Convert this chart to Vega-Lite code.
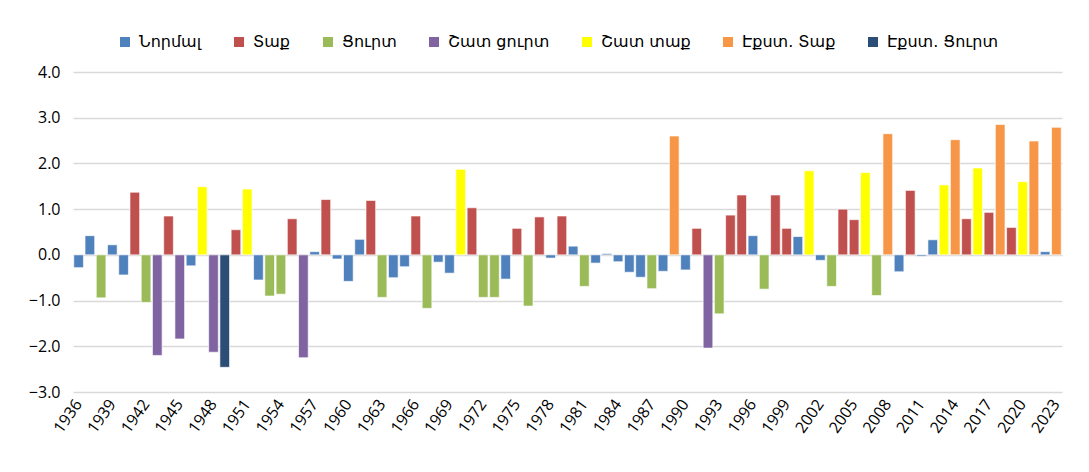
{
  "$schema": "https://vega.github.io/schema/vega-lite/v6.json",
  "width": 989,
  "height": 320,
  "autosize": {"type": "none"},
  "padding": {"left": 73, "top": 72, "right": 27, "bottom": 80},
  "background": "white",
  "config": {
    "view": {"stroke": null},
    "axis": {"labelFont": "Open Sans", "labelColor": "#000000"}
  },
  "data": {
    "values": [
      {"year": 1936, "cat": "Նորմալ", "v": -0.28},
      {"year": 1937, "cat": "Նորմալ", "v": 0.42},
      {"year": 1938, "cat": "Ցուրտ", "v": -0.94},
      {"year": 1939, "cat": "Նորմալ", "v": 0.22},
      {"year": 1940, "cat": "Նորմալ", "v": -0.44},
      {"year": 1941, "cat": "Տաք", "v": 1.37},
      {"year": 1942, "cat": "Ցուրտ", "v": -1.04},
      {"year": 1943, "cat": "Շատ ցուրտ", "v": -2.2},
      {"year": 1944, "cat": "Տաք", "v": 0.85},
      {"year": 1945, "cat": "Շատ ցուրտ", "v": -1.84},
      {"year": 1946, "cat": "Նորմալ", "v": -0.24},
      {"year": 1947, "cat": "Շատ տաք", "v": 1.49},
      {"year": 1948, "cat": "Շատ ցուրտ", "v": -2.13},
      {"year": 1949, "cat": "Էքստ. Ցուրտ", "v": -2.46},
      {"year": 1950, "cat": "Տաք", "v": 0.55},
      {"year": 1951, "cat": "Շատ տաք", "v": 1.44},
      {"year": 1952, "cat": "Նորմալ", "v": -0.55},
      {"year": 1953, "cat": "Ցուրտ", "v": -0.9},
      {"year": 1954, "cat": "Ցուրտ", "v": -0.86},
      {"year": 1955, "cat": "Տաք", "v": 0.79},
      {"year": 1956, "cat": "Շատ ցուրտ", "v": -2.25},
      {"year": 1957, "cat": "Նորմալ", "v": 0.07},
      {"year": 1958, "cat": "Տաք", "v": 1.21},
      {"year": 1959, "cat": "Նորմալ", "v": -0.09},
      {"year": 1960, "cat": "Նորմալ", "v": -0.58},
      {"year": 1961, "cat": "Նորմալ", "v": 0.34},
      {"year": 1962, "cat": "Տաք", "v": 1.19},
      {"year": 1963, "cat": "Ցուրտ", "v": -0.93},
      {"year": 1964, "cat": "Նորմալ", "v": -0.5},
      {"year": 1965, "cat": "Նորմալ", "v": -0.26},
      {"year": 1966, "cat": "Տաք", "v": 0.85},
      {"year": 1967, "cat": "Ցուրտ", "v": -1.17},
      {"year": 1968, "cat": "Նորմալ", "v": -0.16},
      {"year": 1969, "cat": "Նորմալ", "v": -0.4},
      {"year": 1970, "cat": "Շատ տաք", "v": 1.87},
      {"year": 1971, "cat": "Տաք", "v": 1.03},
      {"year": 1972, "cat": "Ցուրտ", "v": -0.93},
      {"year": 1973, "cat": "Ցուրտ", "v": -0.93},
      {"year": 1974, "cat": "Նորմալ", "v": -0.53},
      {"year": 1975, "cat": "Տաք", "v": 0.58},
      {"year": 1976, "cat": "Ցուրտ", "v": -1.12},
      {"year": 1977, "cat": "Տաք", "v": 0.83},
      {"year": 1978, "cat": "Նորմալ", "v": -0.07},
      {"year": 1979, "cat": "Տաք", "v": 0.85},
      {"year": 1980, "cat": "Նորմալ", "v": 0.19},
      {"year": 1981, "cat": "Ցուրտ", "v": -0.69},
      {"year": 1982, "cat": "Նորմալ", "v": -0.18},
      {"year": 1983, "cat": "Նորմալ", "v": 0.03},
      {"year": 1984, "cat": "Նորմալ", "v": -0.15},
      {"year": 1985, "cat": "Նորմալ", "v": -0.38},
      {"year": 1986, "cat": "Նորմալ", "v": -0.49},
      {"year": 1987, "cat": "Ցուրտ", "v": -0.74},
      {"year": 1988, "cat": "Նորմալ", "v": -0.36},
      {"year": 1989, "cat": "Էքստ. Տաք", "v": 2.6},
      {"year": 1990, "cat": "Նորմալ", "v": -0.33},
      {"year": 1991, "cat": "Տաք", "v": 0.58},
      {"year": 1992, "cat": "Շատ ցուրտ", "v": -2.04},
      {"year": 1993, "cat": "Ցուրտ", "v": -1.29},
      {"year": 1994, "cat": "Տաք", "v": 0.87},
      {"year": 1995, "cat": "Տաք", "v": 1.31},
      {"year": 1996, "cat": "Նորմալ", "v": 0.42},
      {"year": 1997, "cat": "Ցուրտ", "v": -0.75},
      {"year": 1998, "cat": "Տաք", "v": 1.31},
      {"year": 1999, "cat": "Տաք", "v": 0.58},
      {"year": 2000, "cat": "Նորմալ", "v": 0.4},
      {"year": 2001, "cat": "Շատ տաք", "v": 1.84},
      {"year": 2002, "cat": "Նորմալ", "v": -0.12},
      {"year": 2003, "cat": "Ցուրտ", "v": -0.69},
      {"year": 2004, "cat": "Տաք", "v": 1.0},
      {"year": 2005, "cat": "Տաք", "v": 0.77},
      {"year": 2006, "cat": "Շատ տաք", "v": 1.8},
      {"year": 2007, "cat": "Ցուրտ", "v": -0.89},
      {"year": 2008, "cat": "Էքստ. Տաք", "v": 2.65},
      {"year": 2009, "cat": "Նորմալ", "v": -0.37},
      {"year": 2010, "cat": "Տաք", "v": 1.41},
      {"year": 2011, "cat": "Նորմալ", "v": -0.03},
      {"year": 2012, "cat": "Նորմալ", "v": 0.33},
      {"year": 2013, "cat": "Շատ տաք", "v": 1.53},
      {"year": 2014, "cat": "Էքստ. Տաք", "v": 2.52},
      {"year": 2015, "cat": "Տաք", "v": 0.79},
      {"year": 2016, "cat": "Շատ տաք", "v": 1.9},
      {"year": 2017, "cat": "Տաք", "v": 0.93},
      {"year": 2018, "cat": "Էքստ. Տաք", "v": 2.85},
      {"year": 2019, "cat": "Տաք", "v": 0.6},
      {"year": 2020, "cat": "Շատ տաք", "v": 1.6},
      {"year": 2021, "cat": "Էքստ. Տաք", "v": 2.49},
      {"year": 2022, "cat": "Նորմալ", "v": 0.07},
      {"year": 2023, "cat": "Էքստ. Տաք", "v": 2.79}
    ]
  },
  "mark": {"type": "bar", "stroke": "white", "strokeWidth": 0.8, "strokeOpacity": 0.8},
  "encoding": {
    "x": {
      "field": "year",
      "type": "ordinal",
      "scale": {"paddingInner": 0.14, "paddingOuter": 0.07},
      "axis": {
        "title": null,
        "values": [1936, 1939, 1942, 1945, 1948, 1951, 1954, 1957, 1960, 1963, 1966, 1969, 1972, 1975, 1978, 1981, 1984, 1987, 1990, 1993, 1996, 1999, 2002, 2005, 2008, 2011, 2014, 2017, 2020, 2023],
        "labelAngle": -55,
        "labelFontSize": 16,
        "labelPadding": 9,
        "ticks": false,
        "domain": false,
        "grid": false
      }
    },
    "y": {
      "field": "v",
      "type": "quantitative",
      "scale": {"domain": [-3, 4], "nice": false},
      "axis": {
        "title": null,
        "values": [-3, -2, -1, 0, 1, 2, 3, 4],
        "format": ".1f",
        "labelFontSize": 16,
        "labelPadding": 13,
        "ticks": false,
        "domain": false,
        "grid": true,
        "gridColor": "#D9D9D9",
        "gridWidth": 1.5
      }
    },
    "color": {
      "field": "cat",
      "type": "nominal",
      "scale": {
        "domain": ["Նորմալ", "Տաք", "Ցուրտ", "Շատ ցուրտ", "Շատ տաք", "Էքստ. Տաք", "Էքստ. Ցուրտ"],
        "range": ["#4F81BD", "#C0504D", "#9BBB59", "#8064A2", "#FFFF00", "#F79646", "#2C4D75"]
      },
      "legend": {
        "title": null,
        "orient": "none",
        "direction": "horizontal",
        "legendX": 44,
        "legendY": -38,
        "symbolType": "square",
        "symbolSize": 100,
        "symbolStrokeWidth": 0,
        "labelFont": "DejaVu Sans",
        "labelFontSize": 16,
        "labelColor": "#000000",
        "columnPadding": 29,
        "labelOffset": 6
      }
    }
  }
}
